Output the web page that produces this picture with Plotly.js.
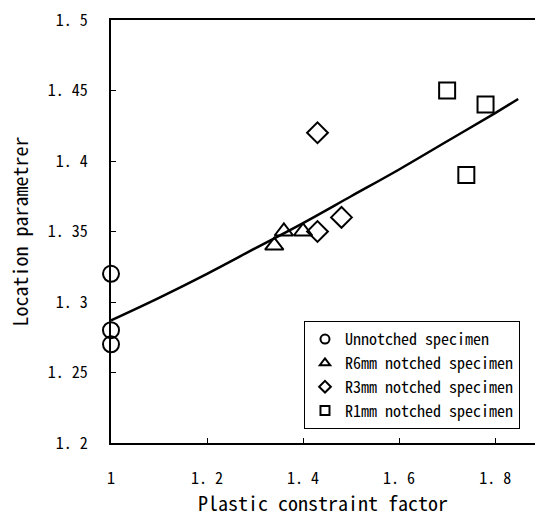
<!DOCTYPE html>
<html>
<head>
<meta charset="utf-8">
<script src="https://cdn.plot.ly/plotly-3.0.1.min.js"></script>
<style>html,body{margin:0;padding:0;background:#fff;}#chart{width:535px;height:517px;}</style>
</head>
<body>
<div id="chart"></div>
<script>
// Data
const unnotchedX = [1, 1, 1];
const unnotchedY = [1.32, 1.28, 1.27];
const r6X = [1.34, 1.36, 1.40];
const r6Y = [1.34, 1.35, 1.35];
const r3X = [1.43, 1.48, 1.43];
const r3Y = [1.35, 1.36, 1.42];
const r1X = [1.70, 1.78, 1.74];
const r1Y = [1.45, 1.44, 1.39];
// fitted curve, points
const fitX = [1.00, 1.10, 1.20, 1.30, 1.40, 1.50, 1.60, 1.70, 1.80, 1.848];
const fitY = [1.287, 1.303, 1.320, 1.338, 1.356, 1.375, 1.394, 1.414, 1.434, 1.444];

const legendNames = ["Unnotched specimen", "R6mm notched specimen", "R3mm notched specimen", "R1mm notched specimen"];
const symbols = ["circle-open", "triangle-up-open", "diamond-open", "square-open"];

const xTickVals = [1, 1.2, 1.4, 1.6, 1.8];
const xTickText = ["1", "1. 2", "1. 4", "1. 6", "1. 8"];
const yTickVals = [1.2, 1.25, 1.3, 1.35, 1.4, 1.45, 1.5];
const yTickText = ["1. 2", "1. 25", "1. 3", "1. 35", "1. 4", "1. 45", "1. 5"];

const FONT = "'Noto Sans Mono CJK JP', 'DejaVu Sans Mono', monospace";

const seriesX = [unnotchedX, r6X, r3X, r1X];
const seriesY = [unnotchedY, r6Y, r3Y, r1Y];

const traces = [];
traces.push({
  x: fitX, y: fitY, mode: "lines", type: "scatter",
  line: {color: "#000", width: 2.5, shape: "spline"},
  showlegend: false, hoverinfo: "skip"
});
for (let i = 0; i < 4; i++) {
  traces.push({
    x: seriesX[i], y: seriesY[i], mode: "markers", type: "scatter",
    marker: {symbol: symbols[i], size: 16, color: "#000", line: {color: "#000", width: 2}},
    cliponaxis: false,
    showlegend: false
  });
}
// legend entries (small symbols, as in the reference)
for (let i = 0; i < 4; i++) {
  traces.push({
    x: [null], y: [null], mode: "markers", type: "scatter", name: legendNames[i],
    marker: {symbol: symbols[i], size: 9, color: "#000", line: {color: "#000", width: 2}},
    showlegend: true
  });
}

const layout = {
  width: 535, height: 517,
  margin: {l: 111, r: 0, t: 20, b: 74},
  paper_bgcolor: "#fff", plot_bgcolor: "#fff",
  font: {family: FONT, color: "#000", size: 16},
  xaxis: {
    range: [1, 1.883], showgrid: false, zeroline: false,
    showline: true, linecolor: "#000", linewidth: 2, mirror: true,
    ticks: "inside", ticklen: 5, tickwidth: 1, tickcolor: "#000",
    tickvals: xTickVals, ticktext: xTickText,
    tickfont: {family: FONT, size: 16},
    ticklabelstandoff: 20,
    title: {text: "Plastic constraint factor", font: {family: FONT, size: 20}, standoff: 5}
  },
  yaxis: {
    range: [1.2, 1.5], showgrid: false, zeroline: false,
    showline: true, linecolor: "#000", linewidth: 2,
    ticks: "inside", ticklen: 5, tickwidth: 1, tickcolor: "#000",
    tickvals: yTickVals, ticktext: yTickText,
    tickfont: {family: FONT, size: 16},
    ticklabelstandoff: 18,
    title: {text: "Location parametrer", font: {family: FONT, size: 20}, standoff: 14}
  },
  legend: {
    x: 0.9646, y: 0.288, xanchor: "right", yanchor: "top",
    bgcolor: "#fff", bordercolor: "#000", borderwidth: 1,
    font: {family: FONT, size: 16},
    itemwidth: 30, tracegroupgap: 0
  }
};

Plotly.newPlot("chart", traces, layout, {displayModeBar: false, staticPlot: true});
</script>
</body>
</html>
